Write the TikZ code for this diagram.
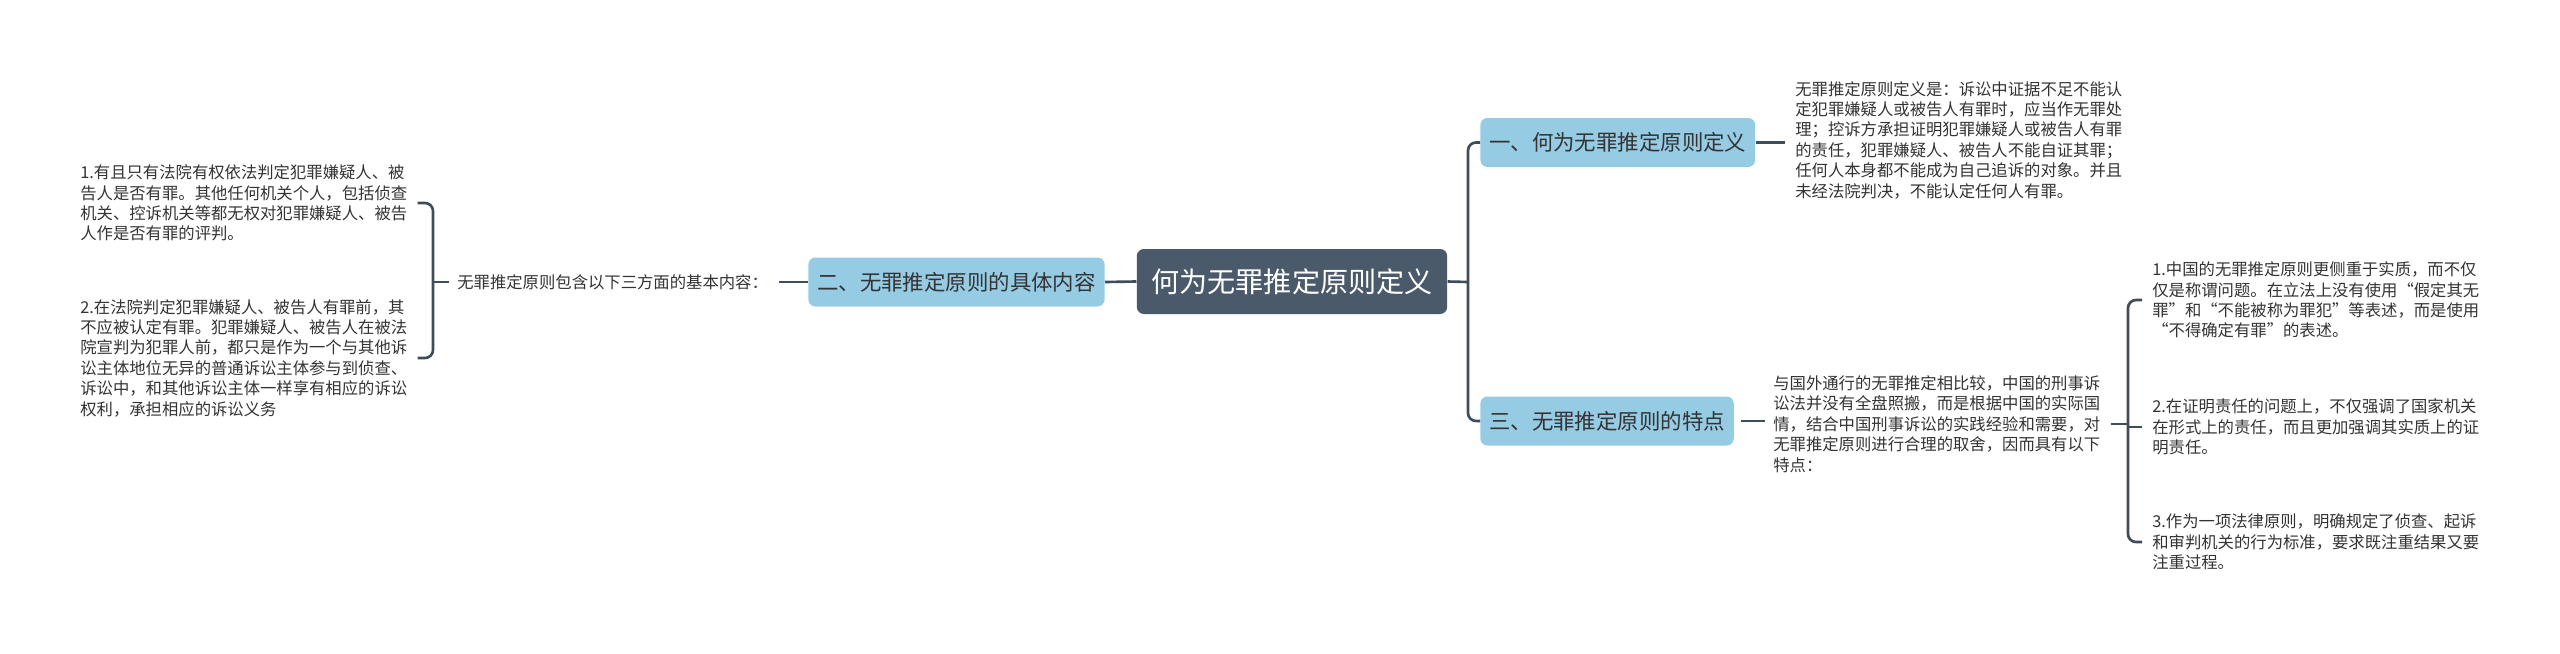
\documentclass[tikz,border=0pt]{standalone}
\usepackage{fontspec}
\setmainfont{Noto Sans CJK SC}
\usetikzlibrary{positioning,calc}
\definecolor{rootfill}{HTML}{4B5A6B}
\definecolor{topicfill}{HTML}{96CBE4}
\definecolor{linkcol}{HTML}{3E4C5B}
\definecolor{txtgray}{HTML}{333333}

\begin{document}
\begin{tikzpicture}[x=0.2mm,y=-0.2mm,
  root/.style={fill=rootfill,text=white,rounded corners=4pt,font=\fontsize{16pt}{19pt}\selectfont,inner xsep=8.3pt,minimum height=13mm},
  topic/.style={fill=topicfill,text=txtgray,rounded corners=4pt,font=\fontsize{12.2pt}{14pt}\selectfont,inner xsep=5pt,minimum height=9.8mm},
  leaf/.style={text=txtgray,align=left,inner sep=0pt,font=\fontsize{9.3pt}{11.6pt}\selectfont},
  link/.style={draw=linkcol,line width=1.5pt}]
\useasboundingbox (0,0) rectangle (2560,653);
% central topic
\node[root] (root) at (1292,281.5) {何为无罪推定原则定义};
% left branch: three aspects
\node[topic,anchor=east] (two) at (1105,282) {二、无罪推定原则的具体内容};
\node[leaf,anchor=west] (basic) at (457,282) {无罪推定原则包含以下三方面的基本内容：};
\node[leaf,anchor=west] (onlycourt) at (80,203) {1.有且只有法院有权依法判定犯罪嫌疑人、被\\告人是否有罪。其他任何机关个人，包括侦查\\机关、控诉机关等都无权对犯罪嫌疑人、被告\\人作是否有罪的评判。};
\node[leaf,anchor=west] (beforejudge) at (80,358) {2.在法院判定犯罪嫌疑人、被告人有罪前，其\\不应被认定有罪。犯罪嫌疑人、被告人在被法\\院宣判为犯罪人前，都只是作为一个与其他诉\\讼主体地位无异的普通诉讼主体参与到侦查、\\诉讼中，和其他诉讼主体一样享有相应的诉讼\\权利，承担相应的诉讼义务};
\coordinate (lj) at (433,282);
\draw[link] (root.west) -- (two.east);
\draw[link,shorten >=6pt] (two.west) -- (basic.east);
\draw[link,shorten <=4.5pt] (basic.west) -- (lj);
\draw[link,rounded corners=1.6mm] ([xshift=2mm]onlycourt.east) -| (lj) |- ([xshift=2mm]beforejudge.east);
% right branch: definition and features
\node[topic,anchor=west] (one) at (1480,142.5) {一、何为无罪推定原则定义};
\node[topic,anchor=west] (three) at (1480,421) {三、无罪推定原则的特点};
\coordinate (rj) at (1468,282);
\draw[link] (root.east) -- (rj);
\draw[link,rounded corners=1.6mm] (one.west) -| (rj) |- (three.west);
\node[leaf,anchor=west] (define) at (1795,140) {无罪推定原则定义是：诉讼中证据不足不能认\\定犯罪嫌疑人或被告人有罪时，应当作无罪处\\理；控诉方承担证明犯罪嫌疑人或被告人有罪\\的责任，犯罪嫌疑人、被告人不能自证其罪；\\任何人本身都不能成为自己追诉的对象。并且\\未经法院判决，不能认定任何人有罪。};
\draw[link,shorten >=5.7pt] (one.east) -- (one.east -| define.west);
\node[leaf,anchor=west] (feature) at (1773,424) {与国外通行的无罪推定相比较，中国的刑事诉\\讼法并没有全盘照搬，而是根据中国的实际国\\情，结合中国刑事诉讼的实践经验和需要，对\\无罪推定原则进行合理的取舍，因而具有以下\\特点：};
\draw[link,shorten <=4pt,shorten >=4.5pt] (three.east) -- (three.east -| feature.west);
% features of the chinese rule
\coordinate (fj) at (2128,425);
\node[leaf,anchor=west] (substance) at (2152,300) {1.中国的无罪推定原则更侧重于实质，而不仅\\仅是称谓问题。在立法上没有使用“假定其无\\罪”和“不能被称为罪犯”等表述，而是使用\\“不得确定有罪”的表述。};
\node[leaf,anchor=west] (burden) at (2152,427) {2.在证明责任的问题上，不仅强调了国家机关\\在形式上的责任，而且更加强调其实质上的证\\明责任。};
\node[leaf,anchor=west] (standard) at (2152,542) {3.作为一项法律原则，明确规定了侦查、起诉\\和审判机关的行为标准，要求既注重结果又要\\注重过程。};
\draw[link,shorten <=6pt] (feature.east) -- (feature.east -| fj);
\draw[link,rounded corners=1.6mm] ([xshift=-2mm]substance.west) -| (fj) |- ([xshift=-2mm]standard.west);
\draw[link] (burden.west -| fj) -- ([xshift=-2mm]burden.west);
\end{tikzpicture}
\end{document}
